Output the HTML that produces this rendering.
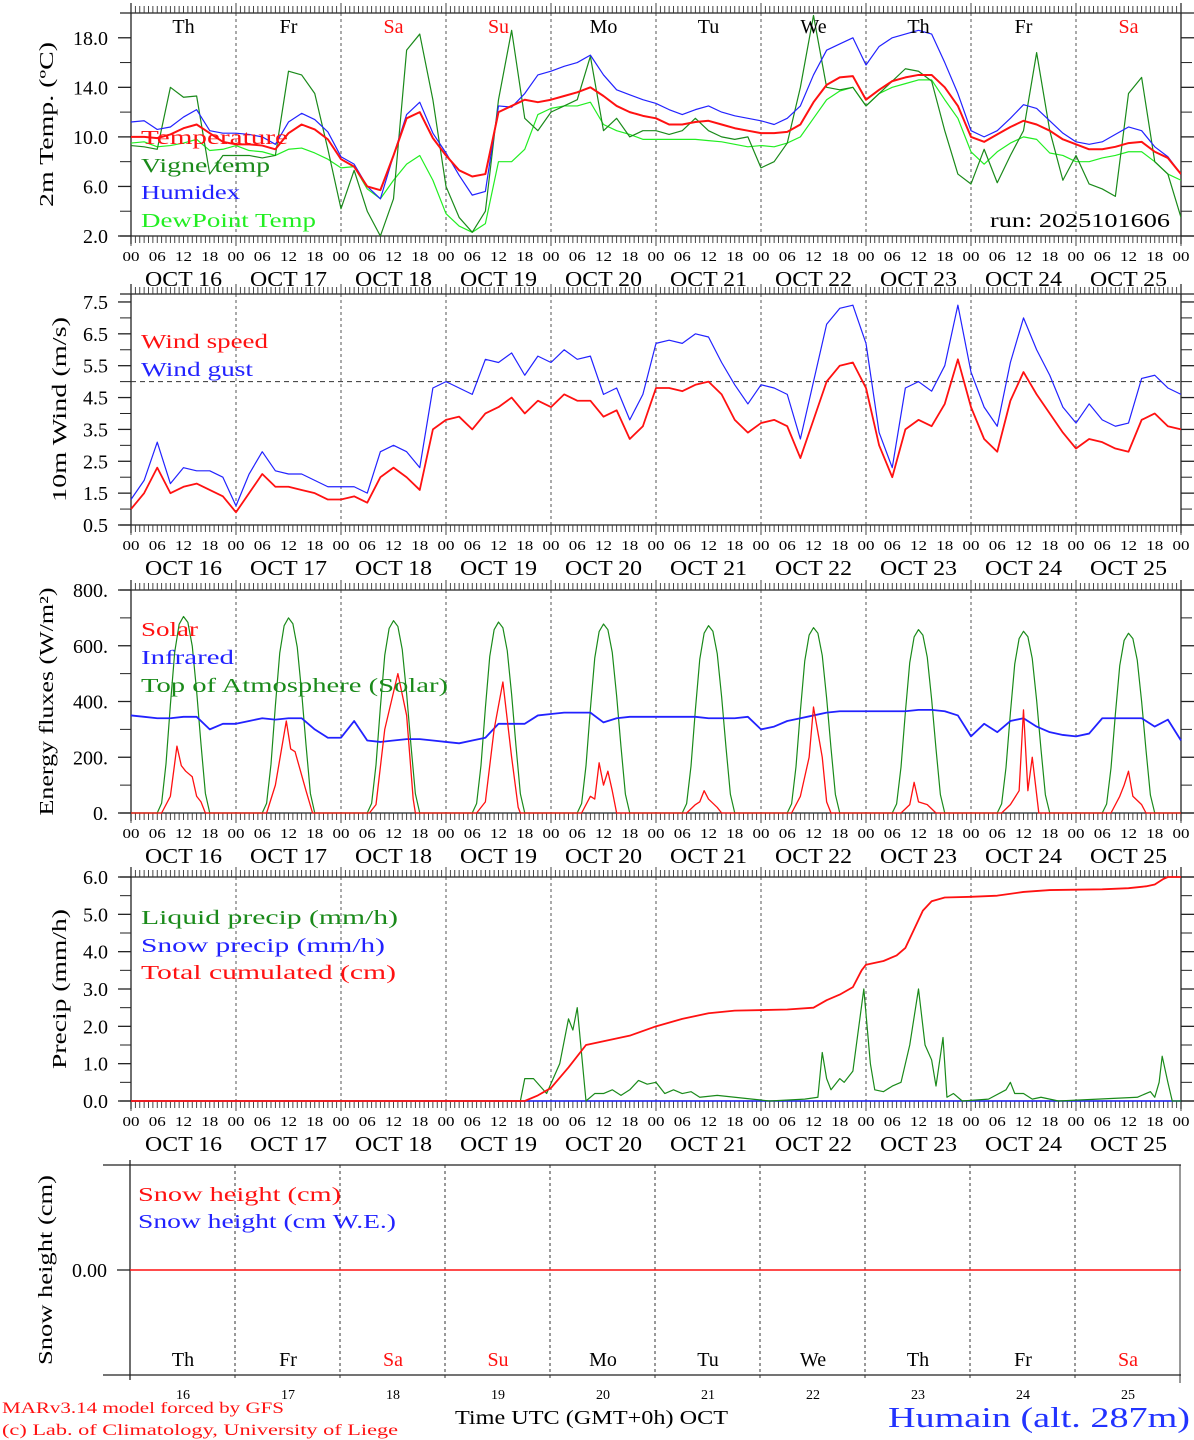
<!DOCTYPE html>
<html><head><meta charset="utf-8"><title>MAR meteogram - Humain</title>
<style>
html,body{margin:0;padding:0;background:#fff;}
svg{display:block;font-family:"Liberation Serif","DejaVu Serif",serif;}
</style></head>
<body>
<svg id="chart" xmlns="http://www.w3.org/2000/svg" width="1194" height="1440" viewBox="0 0 1194 1440">
<rect x="0" y="0" width="1194" height="1440" fill="#fff"/>
</svg>
<script>
// ---------- data ----------
const dayNames = ["Th","Fr","Sa","Su","Mo","Tu","We","Th","Fr","Sa"];
const dayRed = [false,false,true,true,false,false,false,false,false,true];
const dayNums = ["16","17","18","19","20","21","22","23","24","25"];
const dateLabels = ["OCT 16","OCT 17","OCT 18","OCT 19","OCT 20","OCT 21","OCT 22","OCT 23","OCT 24","OCT 25"];
const hourLabels = ["00","06","12","18"];
// 3-hourly series (81 values, hours 0..240)
const tempVals = [10.0,10.0,9.9,10.2,10.7,11.0,10.3,9.6,9.4,9.4,9.3,9.0,10.3,11.0,10.6,9.8,8.2,7.6,6.0,5.7,8.5,11.5,12.0,9.9,8.5,7.3,6.8,7.0,12.0,12.5,13.0,12.8,13.0,13.3,13.6,14.0,13.3,12.5,12.0,11.7,11.5,11.0,11.0,11.2,11.3,11.0,10.7,10.5,10.3,10.3,10.4,11.0,12.8,14.2,14.8,14.9,13.0,13.8,14.5,14.8,15.0,15.0,14.0,12.5,10.0,9.6,10.2,10.8,11.3,11.0,10.5,9.8,9.4,9.0,9.0,9.2,9.5,9.6,8.8,8.3,7.0];
const humidexVals = [11.2,11.3,10.6,10.8,11.6,12.2,10.5,10.3,10.3,10.2,10.0,9.4,11.2,11.9,11.4,10.4,8.4,7.8,6.0,5.0,8.5,11.8,12.8,10.3,8.7,6.9,5.3,5.6,12.5,12.4,13.5,15.0,15.3,15.7,16.0,16.6,15.0,13.8,13.4,13.0,12.7,12.2,11.8,12.2,12.5,12.0,11.7,11.5,11.3,11.0,11.5,12.5,15.0,17.0,17.5,18.0,15.8,17.3,18.0,18.3,18.6,18.3,16.0,13.5,10.5,10.0,10.5,11.5,12.6,12.3,11.3,10.3,9.6,9.4,9.6,10.2,10.8,10.5,9.2,8.4,7.0];
const dewVals = [9.5,9.6,9.2,9.3,9.5,9.8,8.9,9.0,9.3,8.9,8.8,8.5,9.0,9.1,8.7,8.2,7.5,7.6,5.8,5.0,6.5,7.8,8.5,6.5,3.8,2.8,2.3,3.0,8.0,8.0,9.0,11.8,12.3,12.5,12.5,12.8,11.0,10.5,10.2,9.8,9.8,9.8,9.8,9.8,9.7,9.6,9.4,9.2,9.3,9.2,9.5,10.0,11.5,13.0,13.7,14.0,12.5,13.5,14.0,14.3,14.6,14.6,13.0,11.5,8.8,7.8,8.8,9.5,10.0,9.8,8.7,8.5,8.0,8.0,8.3,8.5,8.8,8.8,8.0,7.0,6.5];
const vigneVals = [9.3,9.2,9.0,14.0,13.2,13.3,7.0,8.5,8.5,8.5,8.3,8.5,15.3,15.0,13.5,9.0,4.2,7.3,4.0,2.0,5.0,17.0,18.3,13.0,6.0,3.5,2.3,4.0,13.0,18.6,11.5,10.5,12.0,12.5,13.0,16.5,10.5,11.5,10.0,10.5,10.5,10.2,10.5,11.5,10.5,10.0,9.8,10.0,7.5,8.0,9.5,14.0,19.8,14.0,13.8,14.0,12.5,13.5,14.5,15.5,15.3,14.5,10.5,7.0,6.2,9.0,6.3,8.5,10.5,16.8,10.5,6.5,8.5,6.2,5.8,5.2,13.5,14.8,8.0,7.0,3.5];
const windVals = [1.0,1.5,2.3,1.5,1.7,1.8,1.6,1.4,0.9,1.5,2.1,1.7,1.7,1.6,1.5,1.3,1.3,1.4,1.2,2.0,2.3,2.0,1.6,3.5,3.8,3.9,3.5,4.0,4.2,4.5,4.0,4.4,4.2,4.6,4.4,4.4,3.9,4.1,3.2,3.6,4.8,4.8,4.7,4.9,5.0,4.6,3.8,3.4,3.7,3.8,3.6,2.6,3.8,5.0,5.5,5.6,4.8,3.0,2.0,3.5,3.8,3.6,4.3,5.7,4.2,3.2,2.8,4.4,5.3,4.6,4.0,3.4,2.9,3.2,3.1,2.9,2.8,3.8,4.0,3.6,3.5];
const gustVals = [1.3,1.9,3.1,1.8,2.3,2.2,2.2,2.0,1.1,2.1,2.8,2.2,2.1,2.1,1.9,1.7,1.7,1.7,1.5,2.8,3.0,2.8,2.3,4.8,5.0,4.8,4.6,5.7,5.6,5.9,5.2,5.8,5.6,6.0,5.7,5.8,4.6,4.8,3.8,4.6,6.2,6.3,6.2,6.5,6.4,5.6,4.9,4.3,4.9,4.8,4.6,3.2,5.0,6.8,7.3,7.4,6.2,3.4,2.3,4.8,5.0,4.7,5.5,7.4,5.3,4.2,3.6,5.6,7.0,6.0,5.2,4.2,3.7,4.3,3.8,3.6,3.7,5.1,5.2,4.8,4.6];
const irVals = [350,345,340,340,345,345,300,320,320,330,340,335,340,340,300,270,270,330,260,255,260,265,265,260,255,250,260,270,320,320,320,350,355,360,360,360,325,340,345,345,345,345,345,345,340,340,340,345,300,310,330,340,350,360,365,365,365,365,365,365,370,370,365,350,275,320,290,330,340,310,290,280,275,285,340,340,340,340,310,335,260];
// top-of-atmosphere solar: daily peak and hourly shape (hours 6..18)
const toaPeak = [705,700,690,685,678,672,665,658,652,645];
const toaShape = [0,0.05,0.25,0.55,0.82,0.96,1.0,0.97,0.85,0.62,0.35,0.1,0];
// solar surface: (hour, value)
const solarHours = [0,7,9,10.5,11.5,12.5,14,15,16,17,31,33,35.5,36.5,37.5,40,41.5,54.5,56,58,61,63,64.5,65,79,81,83,85,87,88.5,89,103,105,106,107,108,109,110,111,127,129,130,131,132,134,135,151,153,155,156,158,159,160,176,178,179,180,182,184,199,201,203,204,205,206,207.5,224,226,227,228,229,231,232,240];
const solarVals = [0,0,60,240,170,150,130,60,40,0,0,100,330,230,220,80,0,0,30,300,500,350,50,0,0,40,300,470,200,20,0,0,60,50,180,100,150,80,0,0,30,40,80,50,20,0,0,60,200,380,200,40,0,0,30,110,40,30,0,0,30,80,370,80,200,0,0,60,100,150,60,30,0,0];
// precipitation: (hour, value)
const liqHours = [0,89,90,92,95,98,100,101,102,104,106,108,110,112,114,116,118,120,122,124,126,128,130,134,138,142,146,154,157,158,159,160,162,163,165,167.5,169,170,172,174,176,178,180,181.5,183,184,185.6,186.5,188,190,196,200,201,202,204,206,208,212,230,233,234,235,235.7,237,238,240];
const liqVals = [0,0,0.6,0.6,0.2,1.0,2.2,1.9,2.5,0,0.2,0.2,0.3,0.15,0.3,0.55,0.45,0.5,0.2,0.3,0.2,0.25,0.1,0.15,0.1,0.05,0,0.05,0.1,1.3,0.6,0.3,0.6,0.5,0.8,3.0,1.0,0.3,0.25,0.4,0.5,1.5,3.0,1.5,1.1,0.4,1.7,0.1,0.2,0,0.05,0.3,0.5,0.2,0.2,0.05,0.1,0,0.1,0.25,0.1,0.5,1.2,0.5,0,0];
const cumHours = [0,90,93,96,100,104,108,114,120,126,132,138,150,156,159,162,165,167,168,172,175,177,179,181,183,186,192,198,204,210,222,228,232,234,236,237,240];
const cumVals = [0,0,0.15,0.35,0.9,1.5,1.6,1.75,2.0,2.2,2.35,2.42,2.45,2.5,2.7,2.85,3.05,3.5,3.65,3.75,3.9,4.1,4.6,5.1,5.35,5.45,5.47,5.5,5.6,5.65,5.67,5.7,5.75,5.8,5.95,6.0,6.0];
const snowVals = [0,0];
// y-axis ticks
const p1Ticks = ["2.0","6.0","10.0","14.0","18.0"];
const p2Ticks = ["0.5","1.5","2.5","3.5","4.5","5.5","6.5","7.5"];
const p3Ticks = ["0.","200.","400.","600.","800."];
const p4Ticks = ["0.0","1.0","2.0","3.0","4.0","5.0","6.0"];

// ---------- drawing ----------
const NS = "http://www.w3.org/2000/svg";
const svg = document.getElementById("chart");
const X0 = 131, X1 = 1181, HPX = (X1 - X0) / 240;
function xOf(h){ return X0 + h * HPX; }
function mk(tag, attrs, parent){
  const e = document.createElementNS(NS, tag);
  for (const k in attrs) e.setAttribute(k, attrs[k]);
  (parent || svg).appendChild(e);
  return e;
}
function txt(s, x, y, size, color, anchor, len, parent){
  const t = mk("text", {x:x, y:y, "font-size":size, fill:color||"#000", "text-anchor":anchor||"start"}, parent);
  if (len) { t.setAttribute("textLength", len); t.setAttribute("lengthAdjust", "spacingAndGlyphs"); }
  t.textContent = s;
  return t;
}
function scaleY(p){ return v => p.yb - (v - p.vmin) / (p.vmax - p.vmin) * (p.yb - p.yt); }

const panels = [
  {key:"temp", yt:13, yb:236, vmin:2, vmax:20, ticks:p1Ticks, minor:[4,8,12,16,20], title:"2m Temp. (ºC)", titleX:53, titleLen:165},
  {key:"wind", yt:294, yb:525, vmin:0.5, vmax:7.75, ticks:p2Ticks, minor:[1,2,3,4,5,6,7], title:"10m Wind (m/s)", titleX:66, titleLen:185},
  {key:"flux", yt:590, yb:813, vmin:0, vmax:800, ticks:p3Ticks, minor:[100,300,500,700], title:"Energy fluxes (W/m²)", titleX:53, titleLen:228},
  {key:"precip", yt:877, yb:1101, vmin:0, vmax:6, ticks:p4Ticks, minor:[0.5,1.5,2.5,3.5,4.5,5.5], title:"Precip (mm/h)", titleX:66, titleLen:160}
];

panels.forEach((p, pi) => {
  const g = mk("g", {});
  
  
  const ys = scaleY(p);
  for (let d = 1; d < 10; d++) {
    const l = mk("line", {x1:xOf(d*24), x2:xOf(d*24), y1:p.yt, y2:p.yb, stroke:"#555", "stroke-width":1, "stroke-dasharray":"3,3"}, g);
    
    
  }
  mk("line", {x1:120, x2:1194, y1:p.yt, y2:p.yt, stroke:"#222", "stroke-width":1.3}, g);
  mk("line", {x1:120, x2:1194, y1:p.yb, y2:p.yb, stroke:"#222", "stroke-width":1.3}, g);
  mk("line", {x1:X0, x2:X0, y1:p.yt-10, y2:p.yb+8, stroke:"#222", "stroke-width":1.3}, g);
  mk("line", {x1:X1, x2:X1, y1:p.yt-10, y2:p.yb+8, stroke:"#222", "stroke-width":1.3}, g);
  let dpath = "";
  for (let h = 0; h <= 240; h++) {
    const x = xOf(h).toFixed(2);
    const L = (h % 24 === 0) ? 10 : 7;
    dpath += `M${x},${p.yt}v${-L}M${x},${p.yb}v${L}`;
  }
  mk("path", {d:dpath, stroke:"#333", "stroke-width":0.9, fill:"none"}, g);
  p.ticks.forEach(s => {
    const v = parseFloat(s), y = ys(v);
    mk("line", {x1:118, x2:X0, y1:y, y2:y, stroke:"#222", "stroke-width":1.3}, g);
    mk("line", {x1:X1, x2:1194, y1:y, y2:y, stroke:"#222", "stroke-width":1.3}, g);
    const t = txt(s, 108, y + 7, 20, "#000", "end", null, g);
    
    
  });
  p.minor.forEach(v => {
    const y = ys(v);
    if (y < p.yt - 0.5) return;
    mk("line", {x1:120, x2:X0, y1:y, y2:y, stroke:"#222", "stroke-width":1}, g);
    mk("line", {x1:X1, x2:1192, y1:y, y2:y, stroke:"#222", "stroke-width":1}, g);
  });
  for (let d = 0; d < 10; d++) {
    hourLabels.forEach((hl, i) => {
      const t = txt(hl, xOf(d*24 + i*6), p.yb + 25, 14, "#000", "middle", 17, g);
      
      
    });
    const t = txt(dateLabels[d], xOf(d*24 + 12), p.yb + 50, 21, "#000", "middle", 77, g);
    
    
  }
  txt("00", xOf(240), p.yb + 25, 14, "#000", "middle", 17, g);
  const tt = txt(p.title, 0, 0, 20, "#000", "middle", p.titleLen, g);
  tt.setAttribute("transform", `translate(${p.titleX},${(p.yt+p.yb)/2}) rotate(-90)`);
  
  
  p.g = g; p.ys = ys;
});

function line3h(p, vals, color, width, name){
  const ys = p.ys;
  const pts = vals.map((v, i) => xOf(i*3).toFixed(2) + "," + ys(v).toFixed(2)).join(" ");
  const e = mk("polyline", {points:pts, fill:"none", stroke:color, "stroke-width":width, "stroke-linejoin":"round"}, p.g);
  
  
}
function linePairs(p, hours, vals, color, width, name){
  const ys = p.ys;
  const pts = hours.map((h, i) => xOf(h).toFixed(2) + "," + ys(vals[i]).toFixed(2)).join(" ");
  const e = mk("polyline", {points:pts, fill:"none", stroke:color, "stroke-width":width, "stroke-linejoin":"round"}, p.g);
  
  
}
function legend(p, s, x, y, color, len){
  const t = txt(s, x, y, 20, color, "start", len, p.g);
  
  
}

const defs = mk("defs", {});
const cp = mk("clipPath", {id:"clip1"}, defs);
mk("rect", {x:X0, y:panels[0].yt, width:X1-X0, height:panels[0].yb-panels[0].yt}, cp);

// Panel 1
const P1 = panels[0];
const c1 = mk("g", {"clip-path":"url(#clip1)"}, P1.g);
const savedG = P1.g; P1.g = c1;
line3h(P1, dewVals, "#22ee22", 1.2, "dewpoint-line");
line3h(P1, vigneVals, "#1a8a1a", 1.2, "vigne-temp-line");
line3h(P1, humidexVals, "#2222ff", 1.2, "humidex-line");
line3h(P1, tempVals, "#ff1111", 2, "temperature-line");
P1.g = savedG;
legend(P1, "Temperature", 141, 144, "#ff1111", 147);
legend(P1, "Vigne temp", 141, 172, "#1a8a1a", 129);
legend(P1, "Humidex", 141, 199, "#2222ff", 99);
legend(P1, "DewPoint Temp", 141, 227, "#22ee22", 175);
legend(P1, "run: 2025101606", 990, 227, "#000", 180);
for (let d = 0; d < 10; d++) {
  const t = txt(dayNames[d], xOf(d*24+12), 33, 20, dayRed[d] ? "#ff1111" : "#000", "middle", null, P1.g);
  
  
}

// Panel 2
const P2 = panels[1];
mk("line", {x1:X0, x2:X1, y1:P2.ys(5), y2:P2.ys(5), stroke:"#333", "stroke-width":1, "stroke-dasharray":"5,4"}, P2.g);
line3h(P2, gustVals, "#2222ff", 1.2, "wind-gust-line");
line3h(P2, windVals, "#ff1111", 1.8, "wind-speed-line");
legend(P2, "Wind speed", 141, 348, "#ff1111", 127);
legend(P2, "Wind gust", 141, 376, "#2222ff", 112);

// Panel 3
const P3 = panels[2];
const toaH = [], toaV = [];
for (let d = 0; d < 10; d++) {
  toaShape.forEach((s, i) => { toaH.push(d*24 + 6 + i); toaV.push(toaPeak[d] * s); });
}
toaH.unshift(0); toaV.unshift(0); toaH.push(240); toaV.push(0);
linePairs(P3, toaH, toaV, "#1a8a1a", 1.2, "toa-solar-line");
line3h(P3, irVals, "#2222ff", 1.8, "infrared-line");
linePairs(P3, solarHours, solarVals, "#ff1111", 1.3, "solar-line");
legend(P3, "Solar", 141, 636, "#ff1111", 57);
legend(P3, "Infrared", 141, 664, "#2222ff", 93);
legend(P3, "Top of Atmosphere (Solar)", 141, 692, "#1a8a1a", 307);

// Panel 4
const P4 = panels[3];
linePairs(P4, [0,240], snowVals, "#2222ff", 1.5, "snow-precip-line");
linePairs(P4, liqHours, liqVals, "#1a8a1a", 1.2, "liquid-precip-line");
linePairs(P4, cumHours, cumVals, "#ff1111", 1.8, "total-cumulated-line");
legend(P4, "Liquid precip (mm/h)", 141, 924, "#1a8a1a", 257);
legend(P4, "Snow precip (mm/h)", 141, 952, "#2222ff", 244);
legend(P4, "Total cumulated (cm)", 141, 979, "#ff1111", 255);

// Panel 5
const g5 = mk("g", {});


const X5 = 130, Y5T = 1165, Y5B = 1375;
for (let d = 1; d <= 10; d++) {
  const x = X5 + d * 105;
  mk("line", {x1:x, x2:x, y1:Y5T, y2:(d===10?Y5B+8:Y5B+6), stroke:"#333", "stroke-width":1, "stroke-dasharray":d===10?"none":"3,3"}, g5);
}
mk("line", {x1:103, x2:1181, y1:Y5T, y2:Y5T, stroke:"#222", "stroke-width":1.3}, g5);
mk("line", {x1:103, x2:1181, y1:Y5B, y2:Y5B, stroke:"#222", "stroke-width":1.3}, g5);
mk("line", {x1:X5, x2:X5, y1:Y5T-5, y2:Y5B+5, stroke:"#222", "stroke-width":1.3}, g5);
mk("line", {x1:117, x2:X5, y1:1270, y2:1270, stroke:"#222", "stroke-width":1.3}, g5);
const sl = mk("line", {x1:X5, x2:1181, y1:1270, y2:1270, stroke:"#ff1111", "stroke-width":1.5}, g5);


const zl = txt("0.00", 107, 1277, 20, "#000", "end", null, g5);


const st = txt("Snow height (cm)", 0, 0, 20, "#000", "middle", 190, g5);
st.setAttribute("transform", "translate(52,1270) rotate(-90)");


let t5 = txt("Snow height (cm)", 138, 1201, 20, "#ff1111", "start", 203, g5);


t5 = txt("Snow height (cm W.E.)", 138, 1228, 20, "#2222ff", "start", 258, g5);


for (let d = 0; d < 10; d++) {
  const cx = X5 + d * 105 + 53;
  let t = txt(dayNames[d], cx, 1366, 20, dayRed[d] ? "#ff1111" : "#000", "middle", null, g5);
  
  
  t = txt(dayNums[d], cx, 1399, 14, "#000", "middle", null, g5);
  
  
}
let ft = txt("Time UTC (GMT+0h) OCT", 455, 1424, 20, "#000", "start", 273, g5);


ft = txt("Humain (alt. 287m)", 888, 1427, 28, "#2233ff", "start", 302, g5);


ft = txt("MARv3.14 model forced by GFS", 2, 1413, 16, "#ff1111", "start", 282, g5);


ft = txt("(c) Lab. of Climatology, University of Liege", 2, 1435, 16, "#ff1111", "start", 396, g5);


</script>
</body></html>
